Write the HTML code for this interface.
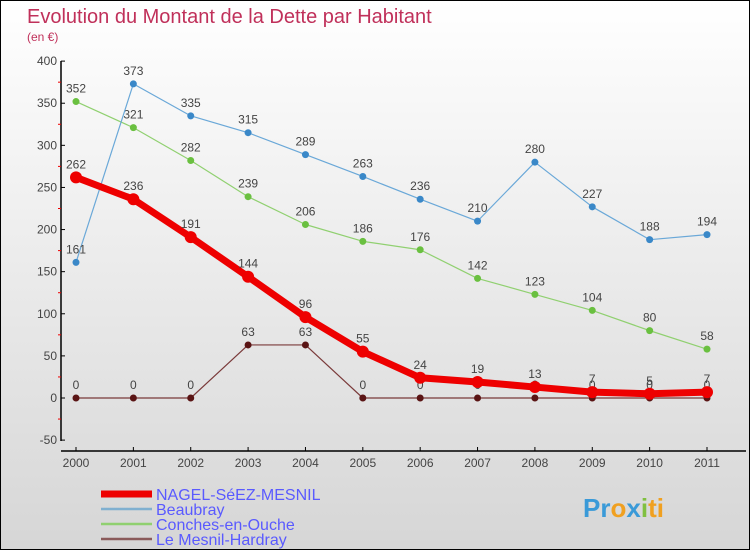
<!DOCTYPE html>
<html><head><meta charset="utf-8"><style>
body{margin:0}
#c{width:750px;height:550px;position:relative;box-sizing:border-box;border:1px solid #000;background:linear-gradient(#ffffff,#d6d6d6);font-family:"Liberation Sans",sans-serif;overflow:hidden}
</style></head><body>
<div id="c">
<svg id="s" width="750" height="550" style="position:absolute;left:0;top:0">
<text x="26" y="22" font-size="20" fill="#c0305a">Evolution du Montant de la Dette par Habitant</text>
<text x="26" y="40" font-size="12" fill="#c0305a">(en €)</text>
</svg>
</div>
<script>
const years=["2000","2001","2002","2003","2004","2005","2006","2007","2008","2009","2010","2011"];
const yTicks=[400,350,300,250,200,150,100,50,0,-50];
const nagel=[262,236,191,144,96,55,24,19,13,7,5,7];
const beaubray=[161,373,335,315,289,263,236,210,280,227,188,194];
const conches=[352,321,282,239,206,186,176,142,123,104,80,58];
const mesnil=[0,0,0,63,63,0,0,0,0,0,0,0];
const series=[
 {name:"Le Mesnil-Hardray",v:mesnil,c:"#7a3a3a",w:1.2,dot:"#5a1414",r:3.5,lc:"#8a5a5a"},
 {name:"Conches-en-Ouche",v:conches,c:"#90d070",w:1.2,dot:"#6ac040",r:3.5,lc:"#90d070"},
 {name:"Beaubray",v:beaubray,c:"#6aa8d8",w:1.2,dot:"#3a88c8",r:3.5,lc:"#80b0d0"},
 {name:"NAGEL-SéEZ-MESNIL",v:nagel,c:"#ee0000",w:7,dot:"#ee0000",r:6,lc:"#ee0000"}
];
const svg=document.getElementById('s');const NS="http://www.w3.org/2000/svg";
function X(i){return 75+i*(706-75)/11}
function Y(v){return 397-v*(379/450)}
function el(t,a,p){const e=document.createElementNS(NS,t);for(const k in a)e.setAttribute(k,a[k]);(p||svg).appendChild(e);return e}
let e=el('line',{x1:60,y1:60,x2:60,y2:440,stroke:"#000","stroke-width":1.5});

e=el('line',{x1:60,y1:450,x2:745,y2:450,stroke:"#000","stroke-width":1.5});

yTicks.forEach((t,i)=>{const y=Y(t);
 el('line',{x1:60,y1:y,x2:64,y2:y,stroke:"#000"});
 if(i<yTicks.length-1)el('line',{x1:57,y1:Y(t-25),x2:60,y2:Y(t-25),stroke:"#e00"});
 const tx=el('text',{x:56,y:y+4,"text-anchor":"end","font-size":12,fill:"#444"});tx.textContent=t;
 });
years.forEach((yr,i)=>{el('line',{x1:X(i),y1:446,x2:X(i),y2:450,stroke:"#000"});
 const tx=el('text',{x:X(i),y:466,"text-anchor":"middle","font-size":12,fill:"#444"});tx.textContent=yr;
 });
series.forEach(s=>{
 const p=el('polyline',{points:s.v.map((v,i)=>X(i)+","+Y(v)).join(" "),fill:"none",stroke:s.c,"stroke-width":s.w,"stroke-linejoin":"round"});
 
 s.v.forEach((v,i)=>{const c=el('circle',{cx:X(i),cy:Y(v),r:s.r,fill:s.dot});
  
  const t=el('text',{x:X(i),y:Y(v)-9,"text-anchor":"middle","font-size":12,fill:"#444"});t.textContent=v;
  });
});
const leg=[series[3],series[2],series[1],series[0]];
leg.forEach((s,i)=>{const y=493+i*15;
 const l=el('line',{x1:100,y1:y,x2:151,y2:y,stroke:s.lc,"stroke-width":i==0?7:2.5});
 
 const t=el('text',{x:155,y:y+6,"font-size":16,fill:"#5a5aff"});t.textContent=s.name;
 });
const lg=el('text',{x:582,y:516,"font-size":26,"font-weight":"bold",fill:"#3a9ad8"});

[["Pr","#3a9ad8"],["o","#f0a020"],["x","#3a9ad8"],["i","#80c040"],["ti","#f0a020"]].forEach(([tx,c])=>{const ts=el('tspan',{fill:c},lg);ts.textContent=tx;});
</script>
</body></html>
